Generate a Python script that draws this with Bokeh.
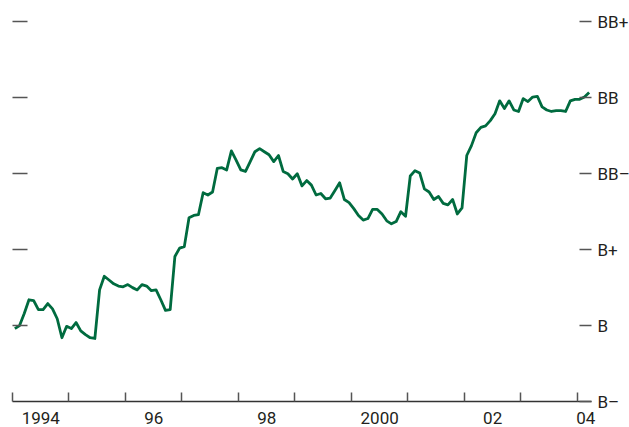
import pandas as pd
from bokeh.plotting import figure
from bokeh.models import Range1d, LinearAxis, FixedTicker
from bokeh.embed import file_html
from bokeh.resources import INLINE

# Monthly rating index, Jan 1994 .. Mar 2004 (0 = B-, 1 = B, 2 = B+, 3 = BB-, 4 = BB, 5 = BB+)
start_month = "1994-01"
rating = [
    0.96, 1.00, 1.16, 1.34, 1.33, 1.21, 1.21, 1.29, 1.22, 1.09, 0.84, 0.99,
    0.96, 1.04, 0.93, 0.88, 0.84, 0.83, 1.47, 1.65, 1.60, 1.55, 1.52, 1.51,
    1.54, 1.50, 1.47, 1.54, 1.52, 1.46, 1.47, 1.34, 1.20, 1.21, 1.91, 2.02,
    2.04, 2.42, 2.45, 2.46, 2.75, 2.72, 2.76, 3.07, 3.08, 3.05, 3.30, 3.18,
    3.05, 3.03, 3.16, 3.29, 3.33, 3.29, 3.25, 3.16, 3.24, 3.03, 3.00, 2.93,
    3.00, 2.84, 2.91, 2.85, 2.72, 2.74, 2.67, 2.68, 2.78, 2.88, 2.66, 2.62,
    2.54, 2.45, 2.39, 2.41, 2.53, 2.53, 2.47, 2.38, 2.34, 2.37, 2.50, 2.44,
    2.97, 3.04, 3.01, 2.80, 2.76, 2.66, 2.70, 2.61, 2.59, 2.66, 2.47, 2.55,
    3.24, 3.37, 3.54, 3.61, 3.63, 3.70, 3.79, 3.96, 3.86, 3.96, 3.84, 3.82,
    3.99, 3.95, 4.01, 4.02, 3.88, 3.84, 3.82, 3.83, 3.83, 3.82, 3.96, 3.98,
    3.98, 4.01, 4.07,
]

rating_ticks = [0, 1, 2, 3, 4, 5]
rating_labels = ["B–", "B", "B+", "BB–", "BB", "BB+"]
year_ticks = list(range(1994, 2005))
year_label_pos = [1994.5, 1996.5, 1998.5, 2000.5, 2002.5, 2004.15]
year_labels = ["1994", "96", "98", "2000", "02", "04"]

months = pd.date_range(start_month, periods=len(rating), freq="MS")
xdec = [d.year + (d.month - 0.5) / 12 for d in months]

FONT = "Roboto"
TXT = "#231f20"
GRAY = "#555555"

p = figure(width=None, height=None, frame_width=579, frame_height=391,
           output_backend="svg", toolbar_location=None,
           x_range=Range1d(1994, 2004.25), y_range=Range1d(0, 5.15),
           x_axis_location=None, y_axis_location=None,
           min_border_left=12, min_border_top=10, min_border_right=0, min_border_bottom=0)
p.outline_line_color = None
p.xgrid.visible = False
p.ygrid.visible = False
p.background_fill_color = "white"

p.line(xdec, rating, line_color="#006b3f", line_width=2.8, line_join="round")

# bottom axis: labels centred in year intervals, ticks at year boundaries
xa = LinearAxis(ticker=FixedTicker(ticks=year_label_pos, minor_ticks=year_ticks))
xa.major_label_overrides = {k: v for k, v in zip(year_label_pos, year_labels)}
xa.major_tick_line_color = None
xa.minor_tick_in = 9
xa.minor_tick_out = 0
xa.minor_tick_line_color = GRAY
xa.minor_tick_line_width = 1.5
xa.axis_line_color = "#333333"
xa.axis_line_width = 1.5
xa.major_label_text_font = FONT
xa.major_label_text_font_size = "17px"
xa.major_label_text_color = TXT
xa.major_label_standoff = 4
p.add_layout(xa, "below")

# left axis: ticks only
la = LinearAxis(ticker=FixedTicker(ticks=rating_ticks[1:]))
la.major_label_overrides = {k: "" for k in rating_ticks[1:]}
la.major_tick_in = 15
la.major_tick_out = 0
la.major_tick_line_color = GRAY
la.major_tick_line_width = 1.5
la.axis_line_color = None
la.minor_tick_line_color = None
la.major_label_standoff = 0
p.add_layout(la, "left")

# right axis: rating labels
ra = LinearAxis(ticker=FixedTicker(ticks=rating_ticks))
ra.major_label_overrides = {k: v for k, v in zip(rating_ticks, rating_labels)}
ra.major_tick_in = 12
ra.major_tick_out = 0
ra.major_tick_line_color = GRAY
ra.major_tick_line_width = 1.5
ra.axis_line_color = None
ra.minor_tick_line_color = None
ra.major_label_text_font = FONT
ra.major_label_text_font_size = "17px"
ra.major_label_text_color = TXT
ra.major_label_standoff = 6
p.add_layout(ra, "right")

open("out.html", "w").write(file_html(p, INLINE))
